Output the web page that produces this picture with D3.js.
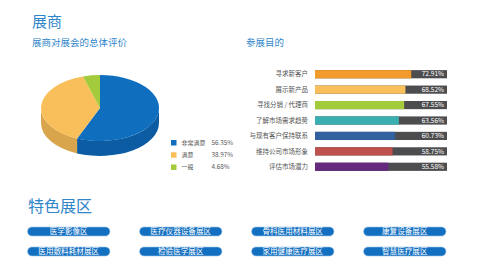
<!DOCTYPE html>
<html>
<head>
<meta charset="utf-8">
<script src="https://cdn.jsdelivr.net/npm/d3@7"></script>
<style>
  body { margin: 0; background: #fff; }
  svg { display: block; font-family: "Noto Sans CJK SC", "Noto Sans", sans-serif; }
</style>
</head>
<body>
<div id="chart"></div>
<script>
// overall evaluation (pie)
var ratingNames = ["非常满意", "满意", "一般"];
var ratingValues = [56.35, 38.97, 4.68];
var ratingColors = ["#0f6fbe", "#f8bf5b", "#a3cb3b"];
var ratingSides = ["#0b5ca3", "#d9a54c", "#8bb02e"];

// purpose of exhibiting (bars)
var purposeNames = ["寻求新客户", "展示新产品", "寻找分销 / 代理商", "了解市场需求趋势", "与现有客户保持联系", "维持公司市场形象", "评估市场潜力"];
var purposeValues = [72.91, 68.52, 67.55, 63.56, 60.73, 58.75, 55.58];
var purposeColors = ["#f39a2c", "#f9bf5b", "#a4cc3a", "#3aafb1", "#33609f", "#bf504d", "#652a7d"];

// featured zones
var zoneNames = ["医学影像区", "医疗仪器设备展区", "骨科医用材料展区", "康复设备展区",
                 "医用敷料耗材展区", "检验医学展区", "家用健康医疗展区", "智慧医疗展区"];

var width = 500, height = 267;
var titleColor = "#2f86c9";
var fmt = d3.format(".2f");

var svg = d3.select("#chart").append("svg")
    .attr("width", width)
    .attr("height", height);

// Titles
svg.append("text").attr("x", 32).attr("y", 27)
    .attr("font-size", 15).attr("fill", titleColor).text("展商");
svg.append("text").attr("x", 32).attr("y", 46)
    .attr("font-size", 9.5).attr("fill", titleColor).text("展商对展会的总体评价");
svg.append("text").attr("x", 246).attr("y", 46)
    .attr("font-size", 9.5).attr("fill", titleColor).text("参展目的");
svg.append("text").attr("x", 28).attr("y", 212)
    .attr("font-size", 16).attr("fill", titleColor).text("特色展区");

// 3D pie
var cx = 100, cy = 108, rx = 59, ry = 33, depth = 15;
var pie = d3.pie().sort(null).value(function(d) { return d; });
var slices = pie(ratingValues);

function pt(a, dy) {
  return [cx + rx * Math.sin(a), cy - ry * Math.cos(a) + (dy || 0)];
}

var pieG = svg.append("g").attr("class", "pie");

// side walls (front half only)
slices.forEach(function(s, i) {
  var b0 = Math.max(s.startAngle, Math.PI / 2);
  var b1 = Math.min(s.endAngle, Math.PI * 1.5);
  if (b1 <= b0) return;
  var p0 = pt(b0), p1 = pt(b1), q1 = pt(b1, depth), q0 = pt(b0, depth);
  var d = "M" + p0 + " A" + rx + "," + ry + " 0 0 1 " + p1 +
          " L" + q1 + " A" + rx + "," + ry + " 0 0 0 " + q0 + " Z";
  pieG.append("path").attr("d", d).attr("fill", ratingSides[i]);
});

// top faces
slices.forEach(function(s, i) {
  var p0 = pt(s.startAngle), p1 = pt(s.endAngle);
  var large = (s.endAngle - s.startAngle) > Math.PI ? 1 : 0;
  var d = "M" + cx + "," + cy + " L" + p0 + " A" + rx + "," + ry + " 0 " + large + " 1 " + p1 + " Z";
  pieG.append("path").attr("d", d).attr("fill", ratingColors[i]);
});

// pie legend
var legendY = d3.scalePoint().domain(ratingNames).range([142.5, 167]);
var legend = svg.append("g").selectAll("g")
    .data(ratingNames)
  .enter().append("g")
    .attr("transform", function(d) { return "translate(171," + legendY(d) + ")"; });
legend.append("rect")
    .attr("x", 0).attr("y", -2.5).attr("width", 5.5).attr("height", 5.5)
    .attr("fill", function(d, i) { return ratingColors[i]; });
legend.append("text")
    .attr("x", 10.5).attr("dy", "0.35em").attr("font-size", 6).attr("fill", "#555")
    .text(function(d) { return d; });
legend.append("text")
    .attr("x", 40.5).attr("dy", "0.35em").attr("font-size", 6.3).attr("fill", "#555")
    .text(function(d, i) { return fmt(ratingValues[i]) + "%"; });

// bar chart
var x = d3.scaleLinear().domain([0, 100]).range([315, 447]);
var y = d3.scaleBand().domain(purposeNames).range([66.5, 174.5]).paddingInner(0.47).paddingOuter(0.235);

var bars = svg.append("g").selectAll("g")
    .data(purposeNames)
  .enter().append("g");

bars.append("rect")
    .attr("x", x(0)).attr("y", function(d) { return y(d); })
    .attr("width", x(100) - x(0)).attr("height", y.bandwidth())
    .attr("fill", "#4d4d4f");
bars.append("rect")
    .attr("x", x(0)).attr("y", function(d) { return y(d); })
    .attr("width", function(d, i) { return x(purposeValues[i]) - x(0); })
    .attr("height", y.bandwidth())
    .attr("fill", function(d, i) { return purposeColors[i]; });
bars.append("text")
    .attr("x", x(100) - 3).attr("y", function(d) { return y(d) + y.bandwidth() / 2; })
    .attr("dy", "0.35em").attr("text-anchor", "end")
    .attr("font-size", 6.5).attr("fill", "#fff")
    .text(function(d, i) { return fmt(purposeValues[i]) + "%"; });
bars.append("text")
    .attr("x", 308).attr("y", function(d) { return y(d) + y.bandwidth() / 2; })
    .attr("dy", "0.35em").attr("text-anchor", "end")
    .attr("font-size", 6.5).attr("fill", "#555")
    .text(function(d) { return d; });

// featured zone buttons
var colX = d3.scaleBand().domain(d3.range(4)).range([27.5, 446]).paddingInner(0.264);
var rowY = d3.scaleBand().domain(d3.range(2)).range([227, 256]).paddingInner(0.55);

var btn = svg.append("g").selectAll("g")
    .data(zoneNames)
  .enter().append("g")
    .attr("transform", function(d, i) { return "translate(" + colX(i % 4) + "," + rowY(Math.floor(i / 4)) + ")"; });
btn.append("rect")
    .attr("width", colX.bandwidth()).attr("height", rowY.bandwidth())
    .attr("rx", rowY.bandwidth() / 2)
    .attr("fill", "#136fc0").attr("stroke", "#9cc3e6").attr("stroke-width", 0.6);
btn.append("text")
    .attr("x", colX.bandwidth() / 2).attr("y", rowY.bandwidth() / 2)
    .attr("dy", "0.35em").attr("text-anchor", "middle")
    .attr("font-size", 7.6).attr("fill", "#fff")
    .text(function(d) { return d; });
</script>
</body>
</html>
